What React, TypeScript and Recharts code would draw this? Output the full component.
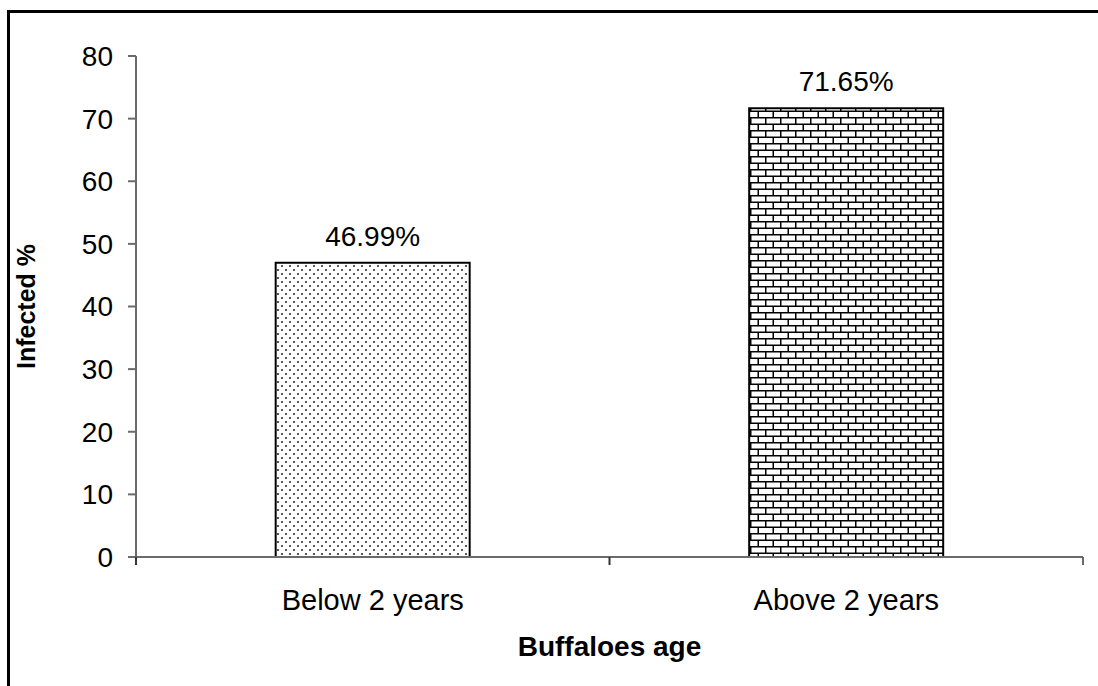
import { BarChart, Bar, XAxis, YAxis, LabelList, Cell, Label } from 'recharts';

// Infection rate by age group
const ageGroups = ['Below 2 years', 'Above 2 years'];
const infectedPct = [46.99, 71.65];
const yTicks = [0, 10, 20, 30, 40, 50, 60, 70, 80];
const barFills = ['url(#dots)', 'url(#bricks)'];

const data = ageGroups.map((name, i) => ({ name, value: infectedPct[i] }));

const FONT = '"Liberation Sans", Arial, sans-serif';
const AXIS = '#6b6b6b';
const FS = 28;

// category label plus tick marks on the group boundaries
const CategoryTick = (props: any) => {
  const { x, y, payload, index, visibleTicksCount } = props;
  const half = payload?.offset ?? 0;
  const isLast = index === visibleTicksCount - 1;
  return (
    <g>
      <line x1={x - half} y1={y} x2={x - half} y2={y + 8} stroke="#333" strokeWidth={2} />
      {isLast && <line x1={x + half} y1={y} x2={x + half} y2={y + 8} stroke={AXIS} strokeWidth={2} />}
      <text x={x} y={y + 53} textAnchor="middle" fill="#000" fontSize={29} fontFamily={FONT}>
        {payload.value}
      </text>
    </g>
  );
};

const App = () => {
  return (
    <div style={{ position: 'absolute', left: 0, top: 0, width: 1098, height: 686, background: '#fff', overflow: 'hidden', fontFamily: FONT }}>
      {/* outer frame, only top and left edges are visible */}
      <div style={{ position: 'absolute', left: 7, top: 10, width: 1200, height: 800, border: '3px solid #000' }} />
      <div style={{ position: 'absolute', left: 0, top: 0 }}>
        <BarChart width={1098} height={686} data={data} margin={{ top: 56, right: 15, left: 0, bottom: 0 }} barCategoryGap="29.5%">
          <defs>
            <pattern id="dots" width="8" height="8" patternUnits="userSpaceOnUse">
              <rect width="8" height="8" fill="#fff" />
              <rect x="1" y="1" width="2" height="2" fill="#5a5a5a" />
              <rect x="5" y="5" width="2" height="2" fill="#5a5a5a" />
            </pattern>
            <pattern id="bricks" width="15" height="13" patternUnits="userSpaceOnUse">
              <rect width="15" height="13" fill="#fff" />
              <line x1="0" y1="0.75" x2="15" y2="0.75" stroke="#000" strokeWidth="1.5" />
              <line x1="0" y1="7.25" x2="15" y2="7.25" stroke="#000" strokeWidth="1.5" />
              <line x1="0.75" y1="0" x2="0.75" y2="7" stroke="#000" strokeWidth="1.5" />
              <line x1="8.25" y1="7" x2="8.25" y2="13" stroke="#000" strokeWidth="1.5" />
            </pattern>
          </defs>
          <XAxis
            dataKey="name"
            height={129}
            axisLine={{ stroke: AXIS, strokeWidth: 2 }}
            tickLine={false}
            tickSize={0}
            tickMargin={0}
            tick={<CategoryTick />}
            interval={0}
          >
            <Label value="Buffaloes age" position="insideBottom" offset={30} fill="#000" fontSize={FS} fontWeight="bold" fontFamily={FONT} />
          </XAxis>
          <YAxis
            width={136}
            domain={[0, 80]}
            ticks={yTicks}
            interval={0}
            tickSize={8}
            tickMargin={15}
            fontSize={FS}
            fontFamily={FONT}
            axisLine={{ stroke: AXIS, strokeWidth: 2 }}
            tickLine={{ stroke: AXIS, strokeWidth: 2 }}
            tick={{ fill: '#000', fontSize: FS }}
          >
            <Label value="Infected %" angle={-90} position="center" dx={-42} fill="#000" fontSize={25} fontWeight="bold" fontFamily={FONT} />
          </YAxis>
          <Bar dataKey="value" stroke="#000" strokeWidth={2} isAnimationActive={false}>
            {data.map((d, i) => (
              <Cell key={d.name} fill={barFills[i]} />
            ))}
            <LabelList
              dataKey="value"
              position="top"
              offset={17}
              fill="#000"
              fontSize={FS}
              fontFamily={FONT}
              formatter={(v: any) => `${Number(v).toFixed(2)}%`}
            />
          </Bar>
        </BarChart>
      </div>
    </div>
  );
};

export default App;
